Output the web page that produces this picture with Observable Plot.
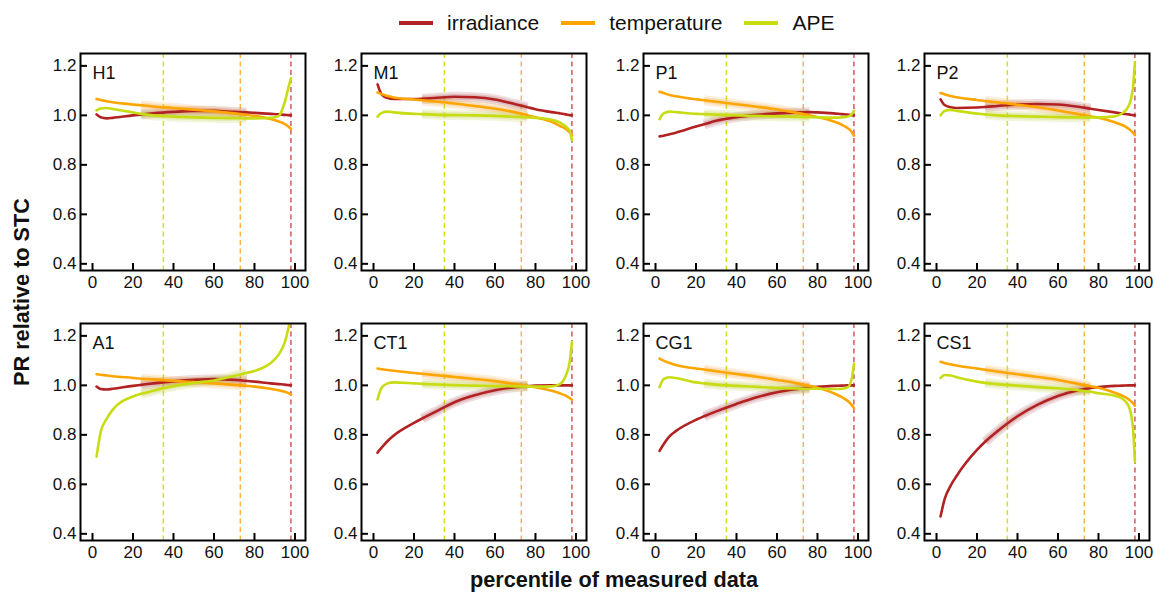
<!DOCTYPE html>
<html><head><meta charset="utf-8">
<script src="https://cdn.jsdelivr.net/npm/d3@7"></script>
<script src="https://cdn.jsdelivr.net/npm/@observablehq/plot@0.6"></script>
<style>
body{margin:0;background:#fff;font-family:"Liberation Sans",Arial,sans-serif;}
#chart{position:relative;width:1154px;height:595px;overflow:hidden;background:#fff;}
.panel{position:absolute;}
.legend{position:absolute;top:9px;left:399px;display:flex;align-items:center;font-size:21px;color:#111;height:28px;}
.item{display:flex;align-items:center;margin-right:22px;}
.sw{width:34px;height:4px;margin-right:14px;}
.xtitle{position:absolute;left:614px;top:580px;transform:translate(-50%,-50%);font-size:21.7px;font-weight:bold;white-space:nowrap;color:#111;}
.ytitle{position:absolute;left:22px;top:292px;transform:translate(-50%,-50%) rotate(-90deg);font-size:21.7px;font-weight:bold;white-space:nowrap;color:#111;}
</style></head>
<body><div id="chart"></div>
<script>
// ---- data ----
const pct = [2, 4, 7, 10, 20, 24, 30, 40, 50, 60, 70, 76, 80, 88, 92, 95, 97, 98];
const sites = ["H1", "M1", "P1", "P2", "A1", "CT1", "CG1", "CS1"];
const seriesNames = ["irradiance", "temperature", "APE"];
const seriesColors = ["#b22222", "#ffa500", "#c8dc14"];
const bandColors = ["#a8424a", "#f0a030", "#b8c830"];
const thresholdX = [98, 73, 35];            // irradiance, temperature, APE
const thresholdColors = ["#cd5c5c", "#ffb347", "#d4e021"];
const xTicks = [0, 20, 40, 60, 80, 100];
const yTicks = [0.4, 0.6, 0.8, 1.0, 1.2];
const bandRange = [24, 76];

const H1_irradiance = [1.004, 0.992, 0.988, 0.99, 1.0, 1.003, 1.008, 1.014, 1.018, 1.018, 1.014, 1.012, 1.01, 1.006, 1.004, 1.002, 1.001, 1.0];
const H1_temperature = [1.066, 1.062, 1.057, 1.053, 1.044, 1.041, 1.036, 1.03, 1.023, 1.016, 1.008, 1.002, 0.998, 0.985, 0.975, 0.965, 0.953, 0.945];
const H1_APE = [1.02, 1.028, 1.03, 1.026, 1.012, 1.006, 1.0, 0.995, 0.992, 0.99, 0.989, 0.988, 0.988, 0.99, 0.998, 1.055, 1.12, 1.15];

const M1_irradiance = [1.125, 1.085, 1.07, 1.066, 1.066, 1.067, 1.07, 1.075, 1.073, 1.064, 1.045, 1.033, 1.025, 1.013, 1.008, 1.004, 1.001, 1.0];
const M1_temperature = [1.092, 1.086, 1.078, 1.072, 1.064, 1.061, 1.056, 1.048, 1.038, 1.027, 1.012, 1.0, 0.992, 0.974, 0.958, 0.945, 0.93, 0.92];
const M1_APE = [0.995, 1.01, 1.015, 1.012, 1.006, 1.005, 1.003, 1.001, 1.0, 0.998, 0.994, 0.992, 0.99, 0.982, 0.972, 0.955, 0.935, 0.9];

const P1_irradiance = [0.915, 0.918, 0.924, 0.93, 0.955, 0.964, 0.978, 0.993, 1.002, 1.008, 1.012, 1.013, 1.012, 1.008, 1.005, 1.003, 1.001, 1.0];
const P1_temperature = [1.095, 1.09, 1.082, 1.077, 1.065, 1.061, 1.055, 1.045, 1.035, 1.024, 1.01, 1.0, 0.993, 0.975, 0.962, 0.948, 0.932, 0.918];
const P1_APE = [0.985, 1.008, 1.015, 1.013, 1.006, 1.005, 1.003, 1.0, 0.998, 0.996, 0.994, 0.993, 0.992, 0.991, 0.992, 0.995, 1.005, 1.018];

const P2_irradiance = [1.065, 1.042, 1.033, 1.03, 1.032, 1.034, 1.038, 1.044, 1.046, 1.044, 1.035, 1.027, 1.022, 1.012, 1.007, 1.004, 1.001, 1.0];
const P2_temperature = [1.09, 1.085, 1.078, 1.073, 1.062, 1.058, 1.053, 1.043, 1.033, 1.02, 1.005, 0.996, 0.99, 0.972, 0.96, 0.945, 0.93, 0.92];
const P2_APE = [1.0, 1.018, 1.022, 1.018, 1.007, 1.004, 1.0, 0.997, 0.995, 0.993, 0.992, 0.992, 0.992, 0.996, 1.01, 1.04, 1.11, 1.215];

const A1_irradiance = [0.995, 0.985, 0.983, 0.986, 0.998, 1.002, 1.008, 1.016, 1.022, 1.025, 1.022, 1.018, 1.015, 1.008, 1.005, 1.003, 1.001, 1.0];
const A1_temperature = [1.045, 1.043, 1.04, 1.037, 1.03, 1.027, 1.024, 1.018, 1.013, 1.008, 1.002, 0.998, 0.995, 0.986, 0.98, 0.974, 0.968, 0.963];
const A1_APE = [0.712, 0.81, 0.865, 0.902, 0.955, 0.966, 0.978, 0.997, 1.01, 1.02, 1.038, 1.05, 1.058, 1.09, 1.125, 1.175, 1.24, 1.28];

const CT1_irradiance = [0.728, 0.748, 0.775, 0.797, 0.848, 0.866, 0.891, 0.932, 0.96, 0.98, 0.993, 0.997, 0.999, 1.0, 1.0, 1.0, 1.0, 1.0];
const CT1_temperature = [1.068, 1.065, 1.062, 1.059, 1.05, 1.047, 1.042, 1.034, 1.026, 1.017, 1.005, 0.997, 0.992, 0.978, 0.968, 0.958, 0.948, 0.942];
const CT1_APE = [0.943, 0.99, 1.008, 1.012, 1.008, 1.006, 1.004, 1.001, 0.999, 0.997, 0.996, 0.995, 0.995, 0.996, 1.005, 1.04, 1.1, 1.175];

const CG1_irradiance = [0.735, 0.762, 0.795, 0.815, 0.861, 0.875, 0.895, 0.925, 0.952, 0.972, 0.985, 0.991, 0.994, 0.998, 0.999, 1.0, 1.0, 1.0];
const CG1_temperature = [1.108, 1.1, 1.09, 1.082, 1.068, 1.064, 1.057, 1.046, 1.035, 1.022, 1.008, 0.998, 0.99, 0.968, 0.952, 0.937, 0.92, 0.908];
const CG1_APE = [0.993, 1.025, 1.033, 1.03, 1.012, 1.008, 1.003, 0.998, 0.994, 0.99, 0.987, 0.986, 0.986, 0.985, 0.986, 0.993, 1.03, 1.088];

const CS1_irradiance = [0.47, 0.54, 0.595, 0.635, 0.739, 0.772, 0.814, 0.875, 0.922, 0.957, 0.98, 0.989, 0.993, 0.998, 0.999, 1.0, 1.0, 1.0];
const CS1_temperature = [1.095, 1.09, 1.085, 1.08, 1.068, 1.063, 1.056, 1.045, 1.034, 1.022, 1.006, 0.996, 0.99, 0.97, 0.957, 0.943, 0.928, 0.918];
const CS1_APE = [1.03, 1.042, 1.04, 1.033, 1.015, 1.01, 1.005, 0.999, 0.993, 0.988, 0.98, 0.974, 0.968, 0.958, 0.945, 0.915, 0.83, 0.69];

const siteSeries = {
  H1: [H1_irradiance, H1_temperature, H1_APE],
  M1: [M1_irradiance, M1_temperature, M1_APE],
  P1: [P1_irradiance, P1_temperature, P1_APE],
  P2: [P2_irradiance, P2_temperature, P2_APE],
  A1: [A1_irradiance, A1_temperature, A1_APE],
  CT1: [CT1_irradiance, CT1_temperature, CT1_APE],
  CG1: [CG1_irradiance, CG1_temperature, CG1_APE],
  CS1: [CS1_irradiance, CS1_temperature, CS1_APE]
};

// ---- layout ----
const chart = document.getElementById("chart");
const frameLefts = [80, 361.35, 642.7, 924.05];
const frameTops = [53, 323];
const FW = 225, FH = 217;
const ML = 50, MR = 6, MT = 8, MB = 45;
const fmt = d3.format(".1f");

sites.forEach((site, si) => {
  const col = si % 4, row = Math.floor(si / 4);
  const rows = [];
  siteSeries[site].forEach((vals, k) => {
    vals.forEach((v, i) => rows.push({series: seriesNames[k], k, x: pct[i], y: v}));
  });
  const marks = [];
  thresholdX.forEach((tx, k) => {
    marks.push(Plot.ruleX([tx], {x: d => d, stroke: thresholdColors[k], strokeWidth: 1.5, strokeDasharray: "5,3.5"}));
  });
  [0, 1, 2].forEach(k => {
    const seg = rows.filter(d => d.k === k && d.x >= bandRange[0] && d.x <= bandRange[1]);
    marks.push(Plot.line(seg, {x: "x", y: "y", stroke: bandColors[k], strokeWidth: 10, strokeOpacity: 0.18, curve: "monotone-x", strokeLinecap: "butt"}));
    marks.push(Plot.line(seg, {x: "x", y: "y", stroke: bandColors[k], strokeWidth: 6, strokeOpacity: 0.2, curve: "monotone-x", strokeLinecap: "butt"}));
  });
  [0, 1, 2].forEach(k => {
    marks.push(Plot.line(rows.filter(d => d.k === k),
      {x: "x", y: "y", stroke: seriesColors[k], strokeWidth: 2.6, curve: "monotone-x", clip: true}));
  });
  marks.push(Plot.tickX(xTicks, {x: d => d, stroke: "#000", strokeWidth: 2, insetTop: FH - 7}));
  marks.push(Plot.tickY(yTicks, {y: d => d, stroke: "#000", strokeWidth: 2, insetRight: FW - 7}));
  marks.push(Plot.axisX(xTicks, {tickSize: 0, tickPadding: 5, fontSize: 17, fill: "#111", label: null}));
  marks.push(Plot.axisY(yTicks, {tickSize: 0, tickPadding: 4, fontSize: 17, fill: "#111", tickFormat: fmt, label: null}));
  marks.push(Plot.frame({stroke: "#000", strokeWidth: 2}));
  marks.push(Plot.text([site], {text: d => d, frameAnchor: "top-left", textAnchor: "start", lineAnchor: "top", dx: 12, dy: 13, fontSize: 18, fill: "#111"}));

  const svg = Plot.plot({
    width: FW + ML + MR,
    height: FH + MT + MB,
    marginLeft: ML, marginRight: MR, marginTop: MT, marginBottom: MB,
    style: {fontFamily: "Liberation Sans, Arial, sans-serif", fontSize: "17px", color: "#111", background: "transparent", overflow: "visible"},
    x: {domain: [-5.93, 105.2]},
    y: {domain: [0.373, 1.25]},
    marks
  });
  svg.classList.add("panel");
  svg.style.left = (frameLefts[col] - ML) + "px";
  svg.style.top = (frameTops[row] - MT) + "px";
  chart.appendChild(svg);
});

const legend = document.createElement("div");
legend.className = "legend";
seriesNames.forEach((name, k) => {
  const item = document.createElement("div");
  item.className = "item";
  const sw = document.createElement("span");
  sw.className = "sw";
  sw.style.background = seriesColors[k];
  const t = document.createElement("span");
  t.textContent = name;
  item.appendChild(sw); item.appendChild(t);
  legend.appendChild(item);
});
chart.appendChild(legend);

const xt = document.createElement("div");
xt.className = "xtitle"; xt.textContent = "percentile of measured data";
chart.appendChild(xt);
const yt = document.createElement("div");
yt.className = "ytitle"; yt.textContent = "PR relative to STC";
chart.appendChild(yt);
</script>
</body></html>
